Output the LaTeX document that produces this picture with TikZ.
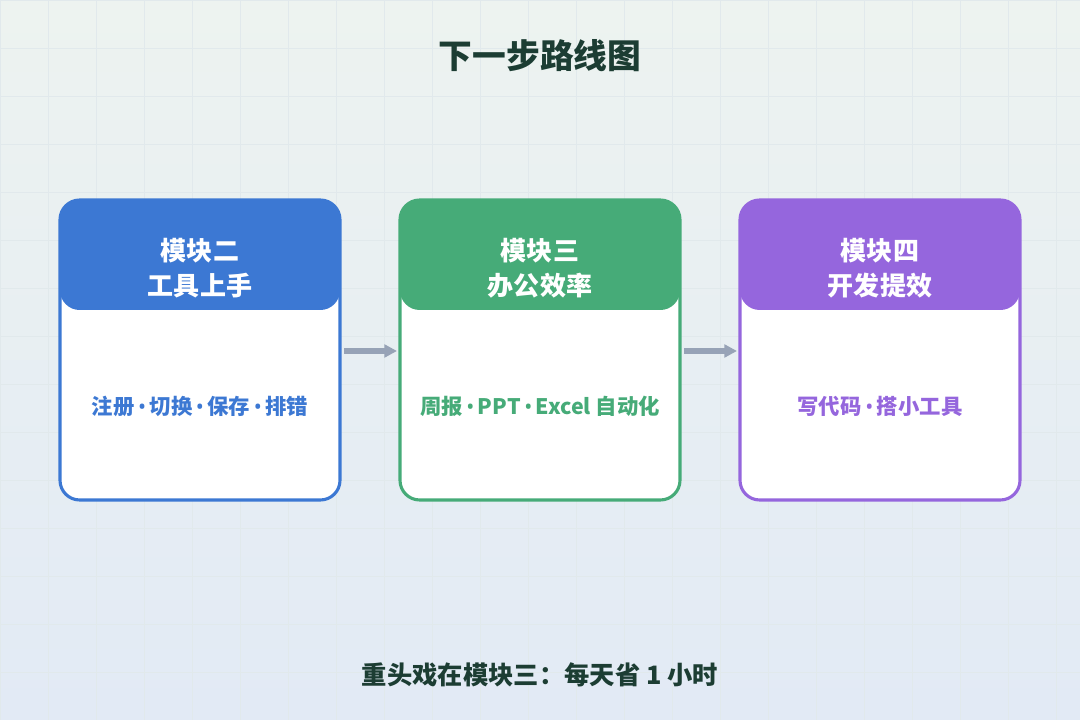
\documentclass[tikz,border=0pt]{standalone}
\usepackage{fontspec}
\setmainfont{Noto Sans CJK SC}
\newfontfamily\latinsans{Noto Sans}
\usetikzlibrary{arrows.meta, positioning}
\definecolor{bgTop}{HTML}{EDF3F0}
\definecolor{bgBot}{HTML}{E2EAF5}
\definecolor{gridLine}{HTML}{E1E9EC}
\definecolor{titleInk}{HTML}{1C3D33}
\definecolor{modBlue}{HTML}{3C78D3}
\definecolor{modGreen}{HTML}{46AB78}
\definecolor{modPurple}{HTML}{9566DD}
\definecolor{flowGray}{HTML}{97A3B6}
\newcommand{\dotsep}{{\latinsans\,\textbullet\,}}
\tikzset{
  head/.style={font=\bfseries\fontsize{18.5}{25}\selectfont, text=white, align=center},
  body/.style={font=\bfseries\fontsize{15.2}{18}\selectfont},
  flow/.style={line width=3.6pt, draw=flowGray, -{Triangle[length=9pt,width=9pt]}}
}
\newcommand{\modcard}[2]{% x, colour
  \begin{scope}
    \clip[rounded corners=14pt] (#1,200) rectangle ++(280,300);
    \fill[white] (#1,200) rectangle ++(280,300);
    \fill[#2, rounded corners=14pt] (#1,180) rectangle ++(280,130);
  \end{scope}
  \draw[#2, line width=2.2pt, rounded corners=14pt] (#1,200) rectangle ++(280,300);
}
\begin{document}
\begin{tikzpicture}[x=0.025cm, y=-0.025cm]
  \shade[top color=bgTop, bottom color=bgBot] (0,0) rectangle (1080,720);
  \useasboundingbox (0,0) rectangle (1080,720);
  \foreach \g in {0,48,...,1080} \draw[gridLine, line width=0.4pt] (\g,0) -- (\g,720);
  \foreach \g in {0,48,...,720} \draw[gridLine, line width=0.4pt] (0,\g) -- (1080,\g);
  % title
  \node[font=\bfseries\fontsize{24}{28}\selectfont, text=titleInk] (title) at (540,56) {下一步路线图};
  % cards
  \modcard{60}{modBlue}
  \modcard{400}{modGreen}
  \modcard{740}{modPurple}
  \node[head] (h2) at (200,268) {模块二\\工具上手};
  \node[head] (h3) at (540,268) {模块三\\办公效率};
  \node[head] (h4) at (880,268) {模块四\\开发提效};
  \node[body, text=modBlue] (b2) at (200,406) {注册\dotsep 切换\dotsep 保存\dotsep 排错};
  \node[body, text=modGreen] (b3) at (540,406) {周报\dotsep PPT\dotsep Excel 自动化};
  \node[body, text=modPurple] (b4) at (880,406) {写代码\dotsep 搭小工具};
  \coordinate (m2) at (344,351);
  \coordinate (m3) at (397,351);
  \coordinate (m4) at (684,351);
  \coordinate (m5) at (737,351);
  \draw[flow] (m2) -- (m3);
  \draw[flow] (m4) -- (m5);
  % footer
  \node[font=\bfseries\fontsize{18}{21}\selectfont, text=titleInk] (foot) at (540,675) {重头戏在模块三：每天省 1 小时};
\end{tikzpicture}
\end{document}
